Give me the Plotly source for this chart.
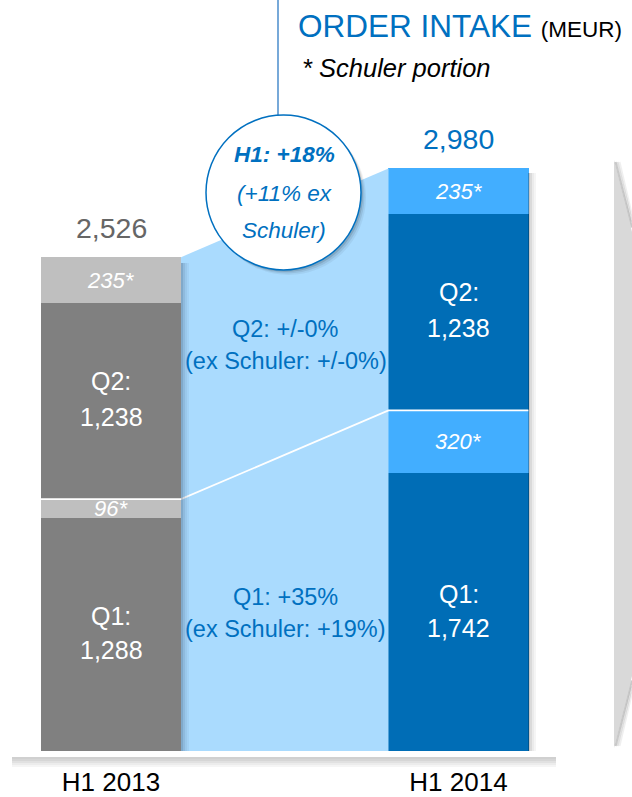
import plotly.graph_objects as go

# ---- data ----
categories = ["H1 2013", "H1 2014"]
q1_total = [1288, 1742]
q1_schuler = [96, 320]
q2_total = [1238, 1238]
q2_schuler = [235, 235]
totals = [2526, 2980]
growth_notes = {
    "q2": ["Q2: +/-0%", "(ex Schuler: +/-0%)"],
    "q1": ["Q1: +35%", "(ex Schuler: +19%)"],
    "h1": ["H1: +18%", "(+11% ex", "Schuler)"],
}

# ---- styling ----
W, H = 632, 797
PLOT_BOTTOM = 751
FONT = "Liberation Sans, Arial, sans-serif"
BLUE_TXT = "#0070c0"
dark = ["#808080", "#006db6"]
light = ["#bfbfbf", "#42aeff"]
conn_fill = "#aadbfe"
bw = 0.403  # bar width in axis units
x_pos = [0, 1]


def X(px):
    return px / W


def Y(py):
    return (PLOT_BOTTOM - py) / PLOT_BOTTOM


q1_ex = [t - s for t, s in zip(q1_total, q1_schuler)]
q2_ex = [t - s for t, s in zip(q2_total, q2_schuler)]

fig = go.Figure()

fig.add_trace(go.Bar(x=x_pos, y=q1_ex, width=bw, marker=dict(color=dark, line=dict(width=0)), hoverinfo="skip"))
fig.add_trace(go.Bar(x=x_pos, y=q1_schuler, width=bw, marker=dict(color=light, line=dict(width=0)), hoverinfo="skip"))
fig.add_trace(go.Bar(x=x_pos, y=q2_ex, width=bw, marker=dict(color=dark, line=dict(width=0)), hoverinfo="skip"))
fig.add_trace(go.Bar(x=x_pos, y=q2_schuler, width=bw, marker=dict(color=light, line=dict(width=0)), hoverinfo="skip"))

# connector area between the bars
fig.add_trace(go.Scatter(
    x=[bw / 2, 1 - bw / 2, 1 - bw / 2, bw / 2, bw / 2],
    y=[0, 0, totals[1], totals[0], 0],
    fill="toself", fillcolor=conn_fill, mode="lines", line=dict(width=0),
    hoverinfo="skip"))

# white Q1 divider line
fig.add_trace(go.Scatter(
    x=[-bw / 2, bw / 2, 1 - bw / 2, 1 + bw / 2],
    y=[q1_total[0], q1_total[0], q1_total[1], q1_total[1]],
    mode="lines", line=dict(color="white", width=1.8), hoverinfo="skip"))

ann = []
# totals
tot_colors = ["#666666", BLUE_TXT]
for i in range(2):
    ann.append(dict(x=x_pos[i], y=totals[i], xref="x", yref="y", text=f"{totals[i]:,}",
                    showarrow=False, yanchor="middle", yshift=29,
                    font=dict(family=FONT, size=28.5, color=tot_colors[i])))
    # Q1 ex label
    mid = q1_ex[i] / 2
    ann.append(dict(x=x_pos[i], y=mid, xref="x", yref="y", text="Q1:", showarrow=False,
                    yanchor="middle", yshift=18, font=dict(family=FONT, size=25, color="white")))
    ann.append(dict(x=x_pos[i], y=mid, xref="x", yref="y", text=f"{q1_total[i]:,}", showarrow=False,
                    yanchor="middle", yshift=-16, font=dict(family=FONT, size=25, color="white")))
    # Q1 schuler
    mid = q1_ex[i] + q1_schuler[i] / 2
    ann.append(dict(x=x_pos[i], y=mid, xref="x", yref="y", text=f"<i>{q1_schuler[i]}*</i>", showarrow=False,
                    yanchor="middle", font=dict(family=FONT, size=22, color="white")))
    # Q2 ex
    mid = q1_total[i] + q2_ex[i] / 2
    ann.append(dict(x=x_pos[i], y=mid, xref="x", yref="y", text="Q2:", showarrow=False,
                    yanchor="middle", yshift=20, font=dict(family=FONT, size=25, color="white")))
    ann.append(dict(x=x_pos[i], y=mid, xref="x", yref="y", text=f"{q2_total[i]:,}", showarrow=False,
                    yanchor="middle", yshift=-16, font=dict(family=FONT, size=25, color="white")))
    # Q2 schuler
    mid = q1_total[i] + q2_ex[i] + q2_schuler[i] / 2
    ann.append(dict(x=x_pos[i], y=mid, xref="x", yref="y", text=f"<i>{q2_schuler[i]}*</i>", showarrow=False,
                    yanchor="middle", font=dict(family=FONT, size=22, color="white")))

# connector notes
for key, yc in (("q2", 345), ("q1", 613)):
    l1, l2 = growth_notes[key]
    ann.append(dict(x=X(285.5), y=Y(yc - 16), xref="paper", yref="paper", text=l1, showarrow=False,
                    yanchor="middle", font=dict(family=FONT, size=23.5, color=BLUE_TXT)))
    ann.append(dict(x=X(285.5), y=Y(yc + 16), xref="paper", yref="paper", text=l2, showarrow=False,
                    yanchor="middle", font=dict(family=FONT, size=23.5, color=BLUE_TXT)))

# circle text
h1 = growth_notes["h1"]
ann.append(dict(x=X(284), y=Y(155), xref="paper", yref="paper", text=f"<b><i>{h1[0]}</i></b>",
                showarrow=False, yanchor="middle", font=dict(family=FONT, size=22.5, color=BLUE_TXT)))
ann.append(dict(x=X(284), y=Y(193), xref="paper", yref="paper", text=f"<i>{h1[1]}</i>",
                showarrow=False, yanchor="middle", font=dict(family=FONT, size=22.5, color=BLUE_TXT)))
ann.append(dict(x=X(284), y=Y(230), xref="paper", yref="paper", text=f"<i>{h1[2]}</i>",
                showarrow=False, yanchor="middle", font=dict(family=FONT, size=22.5, color=BLUE_TXT)))

# title
ann.append(dict(x=X(296), y=Y(26), xref="paper", yref="paper", xanchor="left", yanchor="middle",
                text="ORDER INTAKE <span style='font-size:22.5px;color:#000000'>(MEUR)</span>",
                showarrow=False, font=dict(family=FONT, size=31.5, color=BLUE_TXT)))
ann.append(dict(x=X(300), y=Y(68), xref="paper", yref="paper", xanchor="left", yanchor="middle",
                text="<i>* Schuler portion</i>", showarrow=False,
                font=dict(family=FONT, size=25.5, color="#000000")))

shapes = []


def rect(x0, y0, x1, y1, color):
    return dict(type="rect", xref="paper", yref="paper", x0=X(x0), x1=X(x1), y0=Y(y1), y1=Y(y0),
                fillcolor=color, line=dict(width=0), layer="above")


# bar side shadows
for i, a in enumerate([0.28, 0.18, 0.1, 0.05]):
    shapes.append(rect(181 + 2 * i, 263, 183 + 2 * i, 751, f"rgba(20,40,70,{a})"))
    shapes.append(rect(528 + 2 * i, 173, 530 + 2 * i, 751, f"rgba(0,0,0,{a * 0.8})"))
# baseline shadow
for i, a in enumerate([0.35, 0.3, 0.22, 0.14, 0.07]):
    shapes.append(rect(12, 757 + 2 * i, 556, 759 + 2 * i, f"rgba(120,120,120,{a})"))

# right bracket
br = f"M {X(614)},{Y(160)} L {X(632)},{Y(232)} L {X(632)},{Y(676)} L {X(614)},{Y(748)} Z"
shapes.append(dict(type="path", path=br, xref="paper", yref="paper", fillcolor="#d9d9d9",
                   line=dict(width=0), layer="above"))
for i, a in enumerate([0.35, 0.2, 0.1]):
    off = 1.5 + 2 * i
    p = f"M {X(614 + off)},{Y(162)} L {X(632)},{Y(232 - off * 3)}"
    shapes.append(dict(type="path", path=p, xref="paper", yref="paper",
                       line=dict(width=2, color=f"rgba(100,100,100,{a})"), layer="above"))
    p = f"M {X(614 + off)},{Y(746)} L {X(632)},{Y(676 + off * 3)}"
    shapes.append(dict(type="path", path=p, xref="paper", yref="paper",
                       line=dict(width=2, color=f"rgba(100,100,100,{a})"), layer="above"))

# leader line and circle
shapes.append(dict(type="line", xref="paper", yref="paper", x0=X(278), x1=X(278), y0=Y(0), y1=Y(116),
                   line=dict(color="#2e7bc4", width=1.3), layer="above"))
for i, a in enumerate([0.12, 0.08, 0.05]):
    d = 2 + 1.5 * i
    shapes.append(dict(type="circle", xref="paper", yref="paper", x0=X(206 + d), x1=X(361 + d),
                       y0=Y(270 + d), y1=Y(115 + d), fillcolor=f"rgba(0,0,0,{a})",
                       line=dict(width=0), layer="above"))
shapes.append(dict(type="circle", xref="paper", yref="paper", x0=X(206), x1=X(361), y0=Y(270), y1=Y(115),
                   fillcolor="white", line=dict(color="#0070c0", width=1.5), layer="above"))

fig.update_layout(
    width=W, height=H, template="none",
    margin=dict(l=0, r=0, t=0, b=H - PLOT_BOTTOM, pad=0),
    barmode="stack", bargap=0, showlegend=False,
    paper_bgcolor="white", plot_bgcolor="white",
    annotations=ann, shapes=shapes,
    xaxis=dict(range=[-111 / 347.5, (632 - 111) / 347.5], tickvals=x_pos, ticktext=categories,
               showgrid=False, zeroline=False, showline=False, automargin=False,
               ticks="outside", ticklen=8, tickcolor="rgba(0,0,0,0)",
               tickfont=dict(family=FONT, size=26, color="#000000")),
    yaxis=dict(range=[0, PLOT_BOTTOM / 0.1955], visible=False, showgrid=False, zeroline=False,
               automargin=False),
)

fig.write_html("out.html")
